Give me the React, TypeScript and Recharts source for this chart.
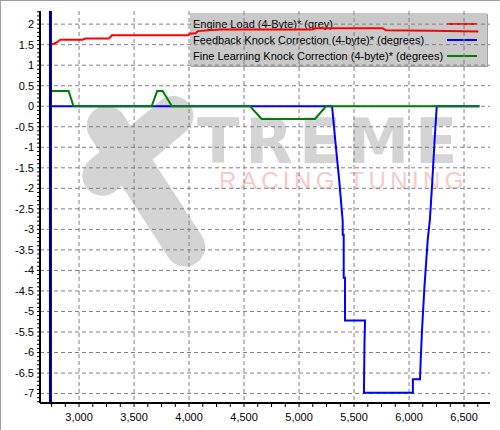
import { LineChart, Line, XAxis, YAxis, CartesianGrid, ReferenceLine, Legend } from 'recharts';

// Engine Load (red)
const LOAD_RPM = [2740, 2770, 2800, 2830, 3030, 3060, 3270, 3300, 3990, 4010, 4060, 4080, 4280, 5120, 5150, 5760, 5790, 6200, 6630];
const LOAD = [1.51, 1.52, 1.56, 1.62, 1.62, 1.65, 1.65, 1.73, 1.73, 1.77, 1.78, 1.83, 1.87, 1.87, 1.9, 1.9, 1.85, 1.84, 1.82];

// Feedback Knock Correction (blue)
const FKC_RPM = [2740, 5300, 5330, 5365, 5397, 5397, 5406, 5406, 5418, 5418, 5600, 5595, 5590, 6035, 6035, 6100, 6105, 6118, 6140, 6170, 6190, 6212, 6233, 6252, 6640];
const FKC = [0, 0, -0.85, -1.8, -2.8, -3.13, -3.13, -4.18, -4.18, -5.22, -5.22, -5.75, -6.98, -6.98, -6.65, -6.65, -6.25, -5.45, -4.4, -3.25, -2.75, -1.8, -0.8, 0, 0];

// Fine Learning Knock Correction (green)
const FLKC_RPM = [2740, 2905, 2950, 3660, 3710, 3760, 3845, 4555, 4660, 5145, 5245, 6640];
const FLKC = [0.37, 0.37, 0, 0, 0.37, 0.37, 0, 0, -0.31, -0.31, 0, 0];

const SERIES_NAMES = [
  'Engine Load (4-Byte)* (grey)',
  'Feedback Knock Correction (4-byte)* (degrees)',
  'Fine Learning Knock Correction (4-byte)* (degrees)',
];
const SERIES_COLORS = ['#ff0000', '#0000ff', '#008000'];

const X_TICKS = [3000, 3500, 4000, 4500, 5000, 5500, 6000, 6500];
const Y_TICKS = [2, 1.5, 1, 0.5, 0, -0.5, -1, -1.5, -2, -2.5, -3, -3.5, -4, -4.5, -5, -5.5, -6, -6.5, -7];
const X_DOMAIN = [2645, 6736];
const Y_DOMAIN = [-7.23, 2.32];
const CURSOR_RPM = 2740;

const X_MINOR = Array.from({ length: 32 }, (_, i) => 2750 + i * 125);
const Y_MINOR = Array.from({ length: 96 }, (_, i) => Math.round((-7.2 + i * 0.1) * 10) / 10);

const FONT = '"Liberation Sans", Arial, sans-serif';

const zip = (xs: number[], ys: number[]) => xs.map((rpm, i) => ({ rpm, v: ys[i] }));
const loadData = zip(LOAD_RPM, LOAD);
const fkcData = zip(FKC_RPM, FKC);
const flkcData = zip(FLKC_RPM, FLKC);

function XTick({ x, y, payload }: any) {
  if (!X_TICKS.includes(payload.value)) return <g />;
  return (
    <text x={x} y={y} dy="0.71em" textAnchor="middle" fontSize={11} fontFamily={FONT} fill="#000">
      {payload.value.toLocaleString('en-US')}
    </text>
  );
}

function YTick({ x, y, payload }: any) {
  const v = payload.value;
  if (Math.abs(v * 2 - Math.round(v * 2)) > 1e-6) return <g />;
  return (
    <text x={x} y={y} dy="0.355em" textAnchor="end" fontSize={11} fontFamily={FONT} fill="#000">
      {String(v)}
    </text>
  );
}

function LegendBox() {
  return (
    <div
      style={{
        width: 297,
        height: 53,
        boxSizing: 'border-box',
        paddingTop: 3,
        background: '#c9c9c9',
        boxShadow: '1px 1px 0 #a0a0a0',
        fontFamily: FONT,
        fontSize: 11,
        color: '#000',
        position: 'relative',
      }}
    >
      {SERIES_NAMES.map((name, i) => (
        <div key={name} style={{ height: 16, lineHeight: '16px', paddingLeft: 3, position: 'relative', whiteSpace: 'nowrap' }}>
          {name}
          <div style={{ position: 'absolute', left: 257, top: 7, width: 30, height: 2, background: SERIES_COLORS[i] }} />
        </div>
      ))}
    </div>
  );
}

// rounded bar for the background logo
function bar(x1: number, y1: number, x2: number, y2: number, w: number) {
  const len = Math.hypot(x2 - x1, y2 - y1);
  const ang = (Math.atan2(y2 - y1, x2 - x1) * 180) / Math.PI;
  return {
    position: 'absolute' as const,
    left: (x1 + x2) / 2 - len / 2,
    top: (y1 + y2) / 2 - w / 2,
    width: len,
    height: w,
    borderRadius: w / 2,
    background: '#d4d4d4',
    transform: `rotate(${ang}deg)`,
    zIndex: -2,
  };
}

export default function App() {
  return (
    <div
      style={{
        position: 'absolute',
        left: 0,
        top: 0,
        width: 500,
        height: 430,
        boxSizing: 'border-box',
        background: '#fff',
        borderLeft: '1px solid #a0a0a0',
        borderTop: '1px solid #a0a0a0',
        zIndex: 0,
      }}
    >
      {/* watermark */}
      <div style={bar(95, 108, 195, 262, 40)} />
      <div style={bar(188, 102, 86, 188, 40)} />
      <div
        style={{
          position: 'absolute', left: 196, top: 116, fontSize: 62, lineHeight: '50px', height: 50, fontWeight: 900,
          fontFamily: '"DejaVu Sans", sans-serif', color: '#d4d4d4', letterSpacing: 6, zIndex: -2,
        }}
      >
        TREME
      </div>
      <div
        style={{
          position: 'absolute', left: 218, top: 171, fontSize: 24, lineHeight: '18px', height: 18,
          fontFamily: FONT, color: '#f9c9c9', letterSpacing: 4.4, zIndex: -2,
        }}
      >
        RACING TUNING
      </div>

      <LineChart width={499} height={429} margin={{ top: 10, right: 10, bottom: 0, left: 0 }}>
        <CartesianGrid
          horizontalValues={Y_TICKS}
          verticalValues={X_TICKS}
          stroke="#808080"
          strokeDasharray="4 3"
          fill="none"
        />
        <XAxis
          dataKey="rpm"
          type="number"
          domain={X_DOMAIN}
          allowDataOverflow
          ticks={X_MINOR}
          interval={0}
          height={27}
          tickSize={4}
          tickMargin={6}
          tick={<XTick />}
          tickLine={{ stroke: '#000' }}
          axisLine={{ stroke: '#000', strokeWidth: 2 }}
        />
        <YAxis
          type="number"
          domain={Y_DOMAIN}
          allowDataOverflow
          ticks={Y_MINOR}
          interval={0}
          width={39}
          tickSize={3}
          tickMargin={3}
          tick={<YTick />}
          tickLine={{ stroke: '#000' }}
          axisLine={{ stroke: '#000', strokeWidth: 2 }}
        />
        <XAxis xAxisId="frame" orientation="top" type="number" domain={X_DOMAIN} height={0} tick={false} tickLine={false} axisLine={{ stroke: '#000' }} />
        <YAxis yAxisId="frame" orientation="right" type="number" domain={Y_DOMAIN} width={0} tick={false} tickLine={false} axisLine={{ stroke: '#000', strokeWidth: 2 }} />
        <Legend
          layout="vertical"
          align="center"
          verticalAlign="middle"
          wrapperStyle={{ left: 189, top: 12, width: 297, height: 53, zIndex: -1 }}
          content={() => <LegendBox />}
        />
        <Line data={fkcData} dataKey="v" name={SERIES_NAMES[1]} stroke={SERIES_COLORS[1]} strokeWidth={2} dot={false} isAnimationActive={false} />
        <Line data={flkcData} dataKey="v" name={SERIES_NAMES[2]} stroke={SERIES_COLORS[2]} strokeWidth={2} dot={false} isAnimationActive={false} />
        <Line data={loadData} dataKey="v" name={SERIES_NAMES[0]} stroke={SERIES_COLORS[0]} strokeWidth={2} dot={false} isAnimationActive={false} />
        <ReferenceLine x={CURSOR_RPM} stroke="#000080" strokeWidth={3} />
      </LineChart>
    </div>
  );
}
